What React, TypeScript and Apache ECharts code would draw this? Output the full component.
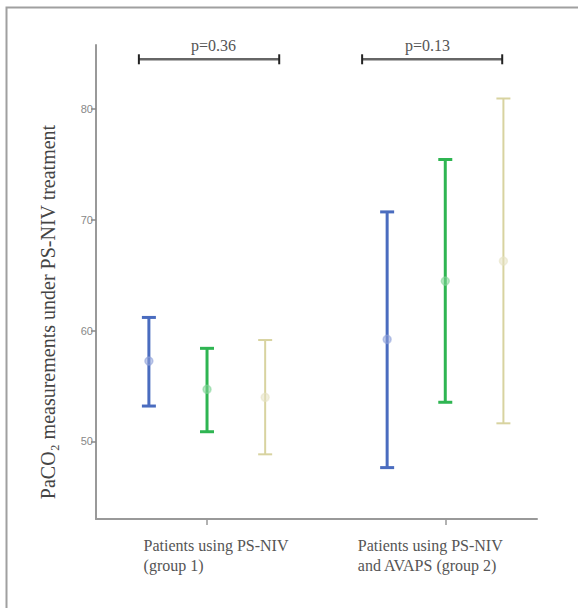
import React, { useEffect, useRef } from "react";
import * as echarts from "echarts";

// Groups (x positions) and category labels
const groupPositions = [1, 2];
const groupLabels = ["Patients using PS-NIV\n(group 1)", "Patients using PS-NIV\nand AVAPS (group 2)"];

// Series: [low, high, mean] per group
const blueBars = [
  [53.2, 61.2, 57.26],
  [47.64, 70.73, 59.22],
];
const greenBars = [
  [50.88, 58.41, 54.71],
  [53.54, 75.46, 64.48],
];
const yellowBars = [
  [48.84, 59.16, 53.99],
  [51.64, 80.97, 66.29],
];

// Significance brackets: [xStart, xEnd, y, labelX]
const brackets = [
  [0.714, 1.303, 84.51, 1.027],
  [1.651, 2.239, 84.51, 1.925],
];
const bracketTexts = ["p=0.36", "p=0.13"];

const yTicks = [50, 60, 70, 80];
const yMin = 43;
const yMax = 85.8;
const xMin = 0.534;
const xMax = 2.385;
const offsets = [-0.244, 0, 0.244];

const SERIF = "'Liberation Serif', 'DejaVu Serif', serif";
const SANS = "'Liberation Sans', Arial, sans-serif";

function errorSeries(name: string, rows: number[][], offset: number, color: string, meanColor: string, lw: number) {
  return {
    type: "custom",
    name,
    clip: false,
    data: rows.map((r, i) => [groupPositions[i] + offset, r[0], r[1], r[2]]),
    renderItem: (params: any, api: any) => {
      const x = api.value(0);
      const lo = api.coord([x, api.value(1)]);
      const hi = api.coord([x, api.value(2)]);
      const mn = api.coord([x, api.value(3)]);
      const hw = 7;
      return {
        type: "group",
        children: [
          { type: "line", shape: { x1: lo[0], y1: lo[1], x2: hi[0], y2: hi[1] }, style: { stroke: color, lineWidth: lw } },
          { type: "line", shape: { x1: hi[0] - hw, y1: hi[1], x2: hi[0] + hw, y2: hi[1] }, style: { stroke: color, lineWidth: lw } },
          { type: "line", shape: { x1: lo[0] - hw, y1: lo[1], x2: lo[0] + hw, y2: lo[1] }, style: { stroke: color, lineWidth: lw } },
          { type: "circle", shape: { cx: mn[0], cy: mn[1], r: 4 }, style: { fill: meanColor, stroke: meanColor, lineWidth: 1.5, opacity: 0.55 } },
        ],
      };
    },
  };
}

export default function App() {
  const ref = useRef<HTMLDivElement>(null);
  useEffect(() => {
    if (!ref.current) return;
    const chart = echarts.init(ref.current, null, { renderer: "svg" });
    const option: any = {
      animation: false,
      backgroundColor: "#ffffff",
      grid: { left: 96, right: 41, top: 45, bottom: 89 },
      graphic: [
        {
          type: "rect",
          shape: { x: 6.5, y: 7.5, width: 700, height: 700 },
          style: { fill: "none", stroke: "#a0a0a0", lineWidth: 2 },
          silent: true,
        },
      ],
      xAxis: {
        type: "value",
        min: xMin,
        max: xMax,
        splitLine: { show: false },
        axisLine: { show: true, lineStyle: { color: "#999", width: 2 } },
        axisTick: { show: true, customValues: groupPositions, length: 6, lineStyle: { color: "#999", width: 1.5 } },
        axisLabel: {
          customValues: groupPositions,
          margin: 16,
          formatter: (v: number) => {
            const idx = groupPositions.indexOf(Math.round(v));
            const lines = groupLabels[idx].split("\n");
            if (idx === 0) return lines.map((l) => `{sp1| }{a|${l}}`).join("\n");
            return lines.map((l, i) => (i === 0 ? `{a|${l}}{sp2| }` : `{a|${l}}`)).join("\n");
          },
          rich: {
            a: { fontFamily: SERIF, fontSize: 16, color: "#555", lineHeight: 20, align: "left" },
            sp1: { width: 18, fontSize: 16, lineHeight: 20, align: "left" },
            sp2: { width: 30, fontSize: 16, lineHeight: 20, align: "left" },
          },
        },
      },
      yAxis: {
        type: "value",
        min: yMin,
        max: yMax,
        name: "PaCO₂ measurements under PS-NIV treatment",
        nameLocation: "middle",
        nameGap: 38,
        nameTextStyle: { fontFamily: SERIF, fontSize: 20, color: "#444", padding: [0, 60, 0, 0] },
        splitLine: { show: false },
        axisLine: { show: true, lineStyle: { color: "#999", width: 2 } },
        axisTick: { show: true, customValues: yTicks, length: 5, lineStyle: { color: "#888", width: 1.5 } },
        axisLabel: { customValues: yTicks, color: "#888", fontFamily: SANS, fontSize: 11, margin: 3 },
      },
      series: [
        errorSeries("blue", blueBars, offsets[0], "#4a6cbf", "#8ea0d8", 3),
        errorSeries("green", greenBars, offsets[1], "#2fb552", "#7fd495", 3),
        errorSeries("yellow", yellowBars, offsets[2], "#d8d3a0", "#e6e2c2", 2),
        {
          type: "custom",
          clip: false,
          data: brackets,
          renderItem: (params: any, api: any) => {
            const a = api.coord([api.value(0), api.value(2)]);
            const b = api.coord([api.value(1), api.value(2)]);
            const t = api.coord([api.value(3), api.value(2)]);
            return {
              type: "group",
              children: [
                { type: "line", shape: { x1: a[0], y1: a[1], x2: b[0], y2: b[1] }, style: { stroke: "#666", lineWidth: 2.5 } },
                { type: "line", shape: { x1: a[0], y1: a[1] - 5, x2: a[0], y2: a[1] + 5 }, style: { stroke: "#222", lineWidth: 2 } },
                { type: "line", shape: { x1: b[0], y1: b[1] - 5, x2: b[0], y2: b[1] + 5 }, style: { stroke: "#222", lineWidth: 2 } },
                {
                  type: "text",
                  style: {
                    text: bracketTexts[params.dataIndex],
                    x: t[0],
                    y: t[1] - 14,
                    align: "center",
                    verticalAlign: "middle",
                    fill: "#555",
                    font: `16px ${SERIF}`,
                  },
                },
              ],
            };
          },
        },
      ],
    };
    chart.setOption(option);
    return () => chart.dispose();
  }, []);
  return <div ref={ref} style={{ position: "absolute", left: 0, top: 0, width: 578, height: 608 }} />;
}
